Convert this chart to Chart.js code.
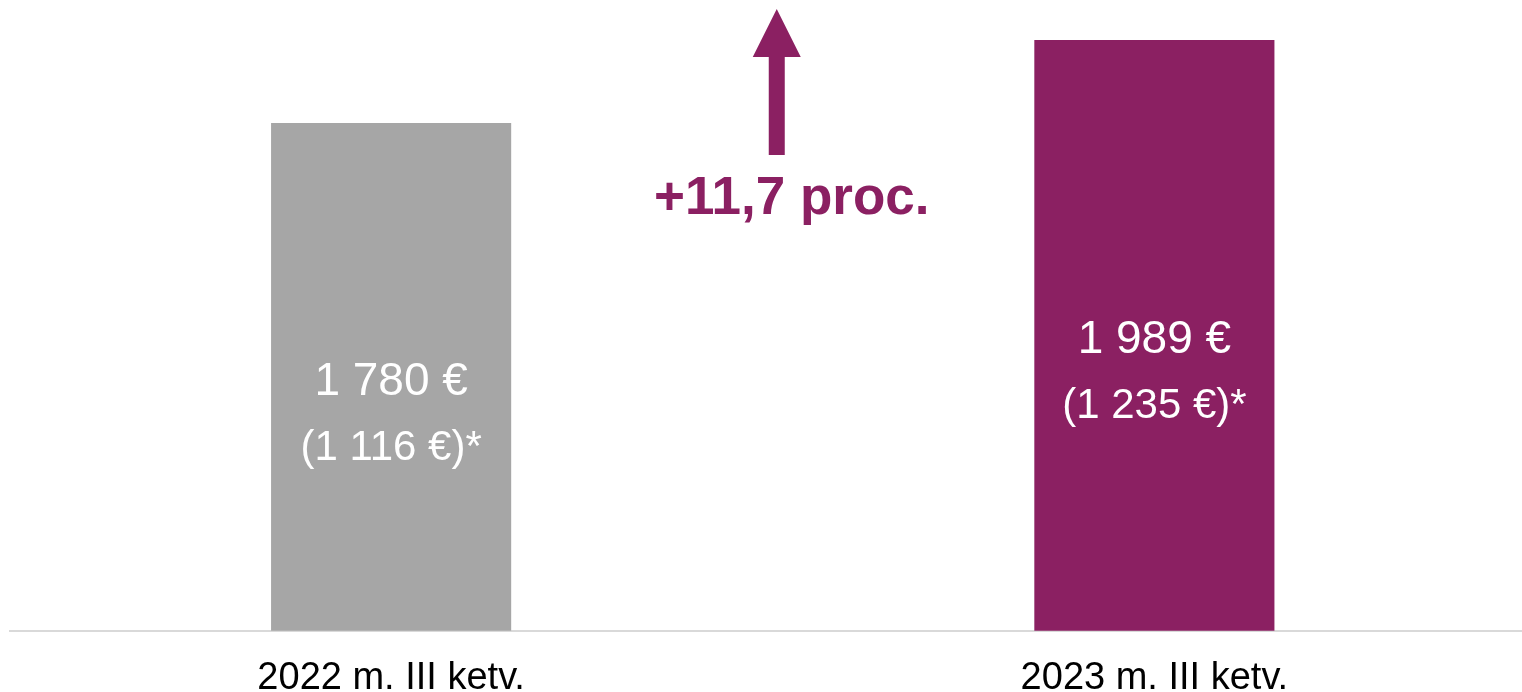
<!DOCTYPE html>
<html>
<head>
<meta charset="utf-8">
<script src="https://cdn.jsdelivr.net/npm/chart.js@4.4.0/dist/chart.umd.min.js"></script>
<style>
  html, body { margin: 0; padding: 0; background: #fff; overflow: hidden; }
  #wrap { width: 1522px; height: 692px; overflow: hidden; position: relative; }
  canvas { position: absolute; left: 0; top: 0; }
</style>
</head>
<body>
<div id="wrap"><canvas id="wageChart" width="1536" height="729"></canvas></div>
<script>
  // data
  const categories = ['2022 m. III ketv.', '2023 m. III ketv.'];
  const grossValues = [1780, 1989];
  const netValues = [1116, 1235];
  const barColors = ['#a6a6a6', '#8b2062'];
  const changeLabel = '+11,7 proc.';

  const fmt = v => String(v).replace(/\B(?=(\d{3})+(?!\d))/g, ' ') + ' €';

  // white labels inside bars + growth arrow between them
  const annotate = {
    id: 'annotate',
    afterDatasetsDraw(chart) {
      const ctx = chart.ctx;
      const meta = chart.getDatasetMeta(0);
      const bottom = chart.chartArea.bottom;
      ctx.save();
      ctx.fillStyle = '#ffffff';
      ctx.textAlign = 'center';
      ctx.textBaseline = 'alphabetic';
      meta.data.forEach((bar, i) => {
        // bar base sits below the visible area (y min > 0), so use the axis line
        const mid = (bar.y + Math.min(bar.base, bottom)) / 2;
        ctx.font = '46px "Liberation Sans", Arial, sans-serif';
        ctx.fillText(fmt(grossValues[i]), bar.x, mid + 18);
        ctx.font = '42px "Liberation Sans", Arial, sans-serif';
        ctx.fillText('(' + fmt(netValues[i]) + ')*', bar.x, mid + 83);
      });

      // arrow
      const x = chart.scales.x.getPixelForValue(0.5) + 4;
      const top = chart.chartArea.top + 5;
      ctx.fillStyle = barColors[1];
      ctx.beginPath();
      ctx.moveTo(x, top);
      ctx.lineTo(x + 24, top + 48);
      ctx.lineTo(x + 8, top + 48);
      ctx.lineTo(x + 8, top + 146);
      ctx.lineTo(x - 8, top + 146);
      ctx.lineTo(x - 8, top + 48);
      ctx.lineTo(x - 24, top + 48);
      ctx.closePath();
      ctx.fill();

      ctx.font = 'bold 53px "Liberation Sans", Arial, sans-serif';
      ctx.fillText(changeLabel, x + 15, top + 205);
      ctx.restore();
    }
  };

  new Chart(document.getElementById('wageChart'), {
    type: 'bar',
    data: {
      labels: categories,
      datasets: [{
        data: grossValues,
        backgroundColor: barColors,
        categoryPercentage: 1,
        barPercentage: 0.3146
      }]
    },
    options: {
      responsive: false,
      animation: false,
      devicePixelRatio: 1,
      layout: { padding: { left: 9.5, right: 0, top: 4, bottom: 2.6 } },
      plugins: { legend: { display: false }, tooltip: { enabled: false } },
      scales: {
        x: {
          grid: { display: false, drawTicks: false },
          border: { display: true, color: '#d9d9d9', width: 2 },
          ticks: {
            color: '#000000',
            padding: 25,
            font: { family: '"Liberation Sans", Arial, sans-serif', size: 38 }
          }
        },
        y: {
          display: false,
          min: 500,
          max: 2080
        }
      }
    },
    plugins: [annotate]
  });
</script>
</body>
</html>
